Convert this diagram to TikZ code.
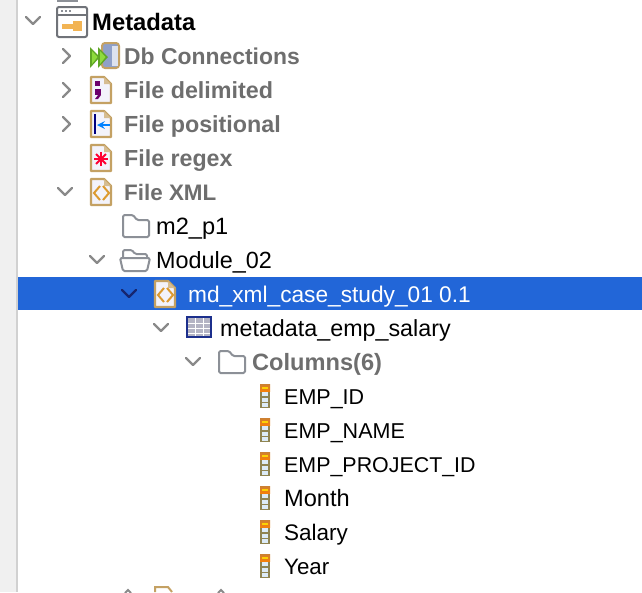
\documentclass[tikz,border=0pt]{standalone}
\usepackage{fontspec}
\setmainfont{Liberation Sans}
\definecolor{chev}{HTML}{8A8A8A}
\definecolor{gtext}{HTML}{6E6E6E}
\definecolor{selbar}{HTML}{2266D8}
\definecolor{fold}{HTML}{8C9097}
\definecolor{filegold}{HTML}{C4A163}
\definecolor{filebg}{HTML}{F3F3FB}
\definecolor{xmlor}{HTML}{DC9A30}
\definecolor{colframe}{HTML}{8F8452}
\definecolor{cell}{HTML}{DCEBF7}
\definecolor{keyor}{HTML}{F2B454}
\definecolor{navy}{HTML}{1C2F8C}
\definecolor{cyl}{HTML}{8FA0C8}
\definecolor{arrowdk}{HTML}{5FA526}
\definecolor{arrowlt}{HTML}{8EDB3C}
\definecolor{tabcell}{HTML}{B4B4C4}
\tikzset{
  x=1pt,y=-1pt,
  fs/.style={font=\fontsize{#1}{24}\selectfont},
  fsb/.style={font=\fontsize{#1}{24}\selectfont\bfseries},
  lbl/.style={anchor=base west,inner sep=0pt,text=black},
  lblb/.style={anchor=base west,inner sep=0pt,text=gtext},
  chevline/.style={draw=chev,line width=2.2pt,line cap=round,line join=round},
  pics/chevd/.style={code={\draw[chevline,#1] (-7,-4) -- (0,3) -- (7,-4);}},
  pics/chevr/.style={code={\draw[chevline] (-4,-7) -- (3,0) -- (-4,7);}},
  pics/fileic/.style={code={
    \draw[draw=filegold,fill=filebg,line width=2.2pt,line join=round] (-10,-13) -- (3,-13) -- (10,-6) -- (10,13) -- (-10,13) -- cycle;
    \fill[filegold!70] (3,-13) -- (10,-6) -- (3,-6) -- cycle;
  }},
  pics/folderc/.style={code={
    \draw[draw=fold,line width=2pt,line join=round,fill=white,rounded corners=1.5pt] (-13,11) -- (-13,-11) -- (-3,-11) -- (1,-6) -- (13,-6) -- (13,11) -- cycle;
  }},
  pics/foldero/.style={code={
    \draw[draw=fold,line width=2pt,line join=round,fill=white,rounded corners=1.5pt] (-12,0) -- (-12,-10) -- (-3,-10) -- (0,-6) -- (12,-6) -- (12,0);
    \draw[draw=fold,line width=2pt,line join=round,fill=white,rounded corners=1.5pt] (-15,-2) -- (15,-2) -- (12,11) -- (-12,11) -- cycle;
  }},
  pics/colic/.style={code={
    \fill[colframe] (-5,-12) rectangle (5,12);
    \fill[top color=brown!80!orange,bottom color=orange!85!brown] (-5,-12) rectangle (5,-5);
    \fill[yellow!70!orange] (-3,-9.5) rectangle (3,-7.5);
    \foreach \yy in {-4,1.5,7} \fill[cell] (-3,\yy) rectangle (3,\yy+4);
  }},
}
\begin{document}
\begin{tikzpicture}
\useasboundingbox (0,0) rectangle (642,592);
\fill[white] (0,0) rectangle (642,592);
\fill[black!6] (0,0) rectangle (16,592);
\fill[black!18] (16,0) rectangle (18,592);
\fill[selbar] (18,277) rectangle (642,310);

% top remnant
\draw[fold,line width=1.6pt] (58,-3) -- (58,1) -- (77,1) -- (77,-3);

% Metadata icon
\draw[draw=fold!80!black,fill=white,line width=2pt,rounded corners=2pt] (57,7) rectangle (87,37);
\draw[fold!80!black,line width=1.6pt] (57,15) -- (87,15);
\foreach \xx in {61,65,69} \fill[fold] (\xx,10) rectangle +(2.4,2.4);
\fill[keyor] (62,24) rectangle (73,29);
\fill[keyor] (73,21) rectangle (82,31);
\node[lbl,fsb=23.8] (nMeta) at (92,30) {Metadata};
\pic at (33,21) {chevd};

% Db connections
\pic at (67,56) {chevr};
\draw[draw=filegold,fill=cyl,line width=2pt,rounded corners=3pt] (102,43) rectangle (119,68);
\fill[cyl!30] (112,46) rectangle (117.5,66);
\fill[arrowdk] (90,47) -- (100,57) -- (90,68) -- cycle;
\fill[arrowdk] (98,47) -- (108,57) -- (98,68) -- cycle;
\fill[arrowlt] (92,51) -- (97.5,57) -- (92,64) -- cycle;
\fill[arrowlt] (100,51) -- (105.5,57) -- (100,64) -- cycle;
\node[lblb,fsb=22.9] (nDb) at (124,64) {Db Connections};

% File delimited
\pic at (67,90) {chevr};
\pic at (101,90) {fileic};
\fill[violet!85!black] (95,81) rectangle (100,86);
\fill[violet!85!black] (95,89) rectangle (101,95);
\fill[violet!85!black] (98,95) -- (101,95) -- (98,99) -- (95,99) -- cycle;
\node[lblb,fsb=23.3] (nDel) at (124,98) {File delimited};

% File positional
\pic at (67,124) {chevr};
\pic at (101,124) {fileic};
\draw[blue!50!black,line width=1.4pt] (95,114) -- (95,134);
\draw[blue!50!cyan,line width=2.4pt,-stealth] (110,125) -- (97,125);
\node[lblb,fsb=23.3] (nPos) at (124,132) {File positional};

% File regex
\pic at (101,158) {fileic};
\foreach \aa in {0,45,90,135} \draw[red!80!magenta,line width=1.8pt] (101,159) +(\aa:7) -- +(\aa+180:7);
\node[lblb,fsb=23.2] (nReg) at (124,166) {File regex};

% File XML
\pic at (65,192) {chevd};
\pic at (101,192) {fileic};
\draw[xmlor,line width=2pt] (100,186) -- (94,193) -- (100,200);
\draw[xmlor,line width=2pt] (103,186) -- (109,193) -- (103,200);
\node[lblb,fsb=22.4] (nXml) at (124,200) {File XML};

% m2_p1
\pic at (136,226) {folderc};
\node[lbl,fs=23.6] (nM2) at (156,234) {m2\_p1};

% Module_02
\pic at (97,260) {chevd};
\pic at (135,260) {foldero};
\node[lbl,fs=23.4] (nMod) at (156,268) {Module\_02};

% selected
\pic at (129,294) {chevd={draw=navy!80!black}};
\pic at (165,294) {fileic};
\draw[xmlor,line width=2pt] (164,288) -- (158,295) -- (164,302);
\draw[xmlor,line width=2pt] (167,288) -- (173,295) -- (167,302);
\node[lbl,text=white,fs=22.7] (nSel) at (188,302) {md\_xml\_case\_study\_01 0.1};

% table
\pic at (161,328) {chevd};
\draw[draw=navy,fill=tabcell,line width=2pt] (187,317) rectangle (211,337);
\foreach \xx in {195,203} \draw[white,line width=1pt] (\xx,318) -- (\xx,336);
\foreach \yy in {323,328,333} \draw[white,line width=1pt] (188,\yy) -- (210,\yy);
\node[lbl,fs=23.3] (nTab) at (220,336) {metadata\_emp\_salary};

% Columns
\pic at (193,362) {chevd};
\pic at (232,362) {folderc};
\node[lblb,fsb=23.6] (nCol) at (252,370) {Columns(6)};

% column rows
\pic at (265,396) {colic};
\node[lbl,fs=21.5] (cola) at (284,404) {EMP\_ID};
\pic at (265,430) {colic};
\node[lbl,fs=21.5] (colb) at (284,438) {EMP\_NAME};
\pic at (265,464) {colic};
\node[lbl,fs=21.4] (colc) at (284,472) {EMP\_PROJECT\_ID};
\pic at (265,498) {colic};
\node[lbl,fs=23.6] (cold) at (284,506) {Month};
\pic at (265,532) {colic};
\node[lbl,fs=22.5] (cole) at (284,540) {Salary};
\pic at (265,566) {colic};
\node[lbl,fs=22.3] (colf) at (284,574) {Year};

% bottom remnants
\draw[filegold,line width=2pt] (155,592) -- (155,587) -- (168,587) -- (172,592);
\draw[chev,line width=2pt] (125,593) -- (128,590) -- (131,593);
\draw[chev,line width=2pt] (218,593) -- (221,590) -- (224,593);
\end{tikzpicture}
\end{document}
